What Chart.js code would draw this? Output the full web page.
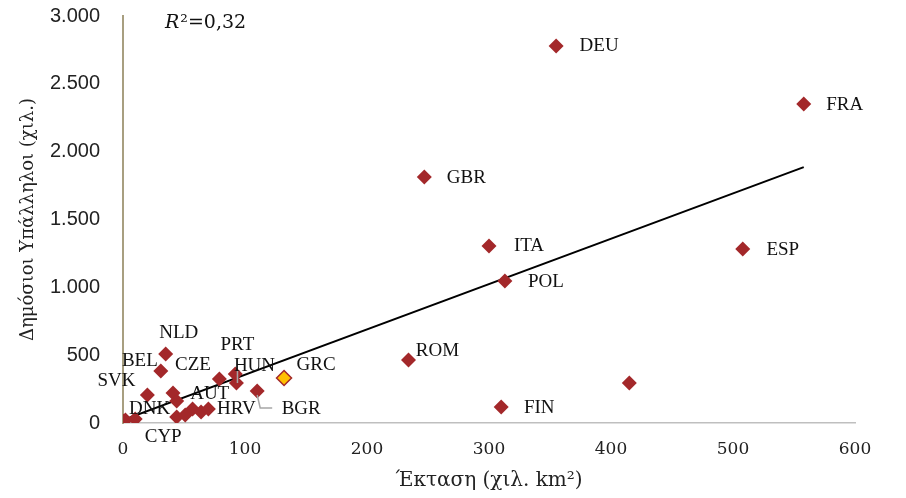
<!DOCTYPE html>
<html>
<head>
<meta charset="utf-8">
<script src="https://cdn.jsdelivr.net/npm/chart.js@4/dist/chart.umd.min.js"></script>
<style>
  html, body { margin: 0; padding: 0; background: #fff; }
  #wrap { width: 906px; height: 498px; position: relative; }
</style>
</head>
<body>
<div id="wrap"><canvas id="chart"></canvas></div>
<script>
/* --------- データ --------- */
// 国コード（null はラベルなし）
const codes = ["DEU","FRA","GBR","ITA","ESP","POL","ROM",null,"FIN","GRC","BGR","NLD","BEL","SVK","CZE","AUT","PRT",null,"HUN","DNK",null,null,null,"HRV",null,null,"CYP"];
// 面積（千 km2）
const area = [355,558,247,300,508,313,234,415,310,132,110,35,31,20,41,44,79,92,93,44,51,57,64,70,0,2,10];
// 公務員数（千人）
const staff = [2778,2351,1813,1304,1282,1046,464,295,118,332,236,508,383,206,221,162,324,361,295,44,59,103,81,103,15,22,29];
// 強調表示する国
const highlight = "GRC";
// 回帰直線の両端
const trendX = [0, 558];
const trendY = [22, 1886];
const xTicks = [0,100,200,300,400,500,600];
const yTicks = [0,500,1000,1500,2000,2500,3000];
const r2Text = "0,32";

// ラベルの位置（点からのずれ、px）
const labelOffsets = {
  DEU:[43,0], FRA:[41,1], GBR:[42,1], ITA:[40,0], ESP:[40,1], POL:[41,1],
  ROM:[29,-9], FIN:[38,1], GRC:[32,-13], BGR:[44,18], NLD:[13,-21],
  BEL:[-21,-10], SVK:[-31,-14], CZE:[20,-28], AUT:[33,-7], PRT:[18,-34],
  HUN:[18,-17], DNK:[-27,-8], HRV:[28,0], CYP:[28,18]
};

const red = "#a3282a";

// 1.000 形式
function fmt(v) {
  return String(v).replace(/\B(?=(\d{3})+(?!\d))/g, ".");
}

/* --------- ラベル描画プラグイン --------- */
const labelPlugin = {
  id: "pointLabels",
  afterDatasetsDraw(chart) {
    const { ctx, scales: { x, y }, chartArea } = chart;
    ctx.save();
    // BGR の引き出し線
    const bi = codes.indexOf("BGR");
    const bx = x.getPixelForValue(area[bi]);
    const by = y.getPixelForValue(staff[bi]);
    ctx.strokeStyle = "#a6a6a6";
    ctx.lineWidth = 1.5;
    ctx.beginPath();
    ctx.moveTo(bx, by + 4);
    ctx.lineTo(bx + 3, by + 17);
    ctx.lineTo(bx + 15, by + 17);
    ctx.stroke();
    // HUN の引き出し線
    const hi = codes.indexOf("HUN");
    const hx = x.getPixelForValue(area[hi]);
    const hy = y.getPixelForValue(staff[hi]);
    ctx.beginPath();
    ctx.moveTo(hx + 1, hy - 13);
    ctx.lineTo(hx + 1, hy);
    ctx.stroke();

    ctx.fillStyle = "#111";
    ctx.font = "19px 'Liberation Serif'";
    ctx.textAlign = "center";
    ctx.textBaseline = "middle";
    codes.forEach((c, i) => {
      if (!c || !labelOffsets[c]) return;
      const px = x.getPixelForValue(area[i]) + labelOffsets[c][0];
      const py = y.getPixelForValue(staff[i]) + labelOffsets[c][1];
      ctx.fillText(c, px, py);
    });

    // R2 表示
    const tx = chartArea.left + 42;
    const ty = chartArea.top + 12;
    ctx.textAlign = "left";
    ctx.textBaseline = "alphabetic";
    ctx.font = "italic 19px 'DejaVu Serif'";
    ctx.fillText("R", tx, ty);
    const rw = ctx.measureText("R").width;
    ctx.font = "19px 'DejaVu Serif'";
    ctx.fillText("²=" + r2Text, tx + rw + 1, ty);
    ctx.restore();
  }
};

/* --------- グラフ --------- */
new Chart(document.getElementById("chart"), {
  type: "scatter",
  data: {
    datasets: [
      {
        type: "line",
        label: "trend",
        data: trendX.map((v, i) => ({ x: v, y: trendY[i] })),
        borderColor: "#000",
        borderWidth: 2,
        pointRadius: 0,
        fill: false,
        order: 2
      },
      {
        label: "countries",
        data: area.map((v, i) => ({ x: v, y: staff[i] })),
        pointStyle: "rectRot",
        pointRadius: 7.5,
        pointHoverRadius: 7.5,
        pointBackgroundColor: codes.map((c) => (c === highlight ? "#ffc000" : red)),
        pointBorderColor: red,
        pointBorderWidth: codes.map((c) => (c === highlight ? 1.5 : 0)),
        order: 1
      }
    ]
  },
  options: {
    responsive: true,
    maintainAspectRatio: false,
    animation: false,
    layout: { padding: { left: 0, right: 51, top: 16, bottom: 0 } },
    plugins: {
      legend: { display: false },
      tooltip: { enabled: false }
    },
    scales: {
      x: {
        type: "linear",
        min: 0,
        max: 600,
        afterBuildTicks: (s) => { s.ticks = xTicks.map((v) => ({ value: v })); },
        afterFit: (s) => { s.height = 75; s.paddingLeft = 0; s.paddingRight = 0; },
        grid: { display: false },
        border: { display: true, color: "#bfbfbf", width: 1.5 },
        ticks: {
          padding: 8,
          color: "#222",
          font: { family: "'DejaVu Serif'", size: 17 },
          maxRotation: 0
        },
        title: {
          display: true,
          text: "Έκταση (χιλ. km²)",
          color: "#222",
          font: { family: "'DejaVu Serif'", size: 20 },
          padding: { top: 0, bottom: 5 }
        }
      },
      y: {
        type: "linear",
        min: 0,
        max: 3000,
        afterBuildTicks: (s) => { s.ticks = yTicks.map((v) => ({ value: v })); },
        afterFit: (s) => { s.width = 123; s.paddingTop = 0; s.paddingBottom = 0; },
        grid: { display: false },
        border: { display: true, color: "#a89f80", width: 2 },
        ticks: {
          padding: 15,
          color: "#222",
          font: { family: "'Liberation Sans'", size: 20 },
          callback: (v) => fmt(v)
        },
        title: {
          display: true,
          text: "Δημόσιοι Υπάλληλοι (χιλ.)",
          color: "#222",
          font: { family: "'DejaVu Serif'", size: 18 },
          padding: { top: 18, bottom: 0 }
        }
      }
    }
  },
  plugins: [labelPlugin]
});
</script>
</body>
</html>
